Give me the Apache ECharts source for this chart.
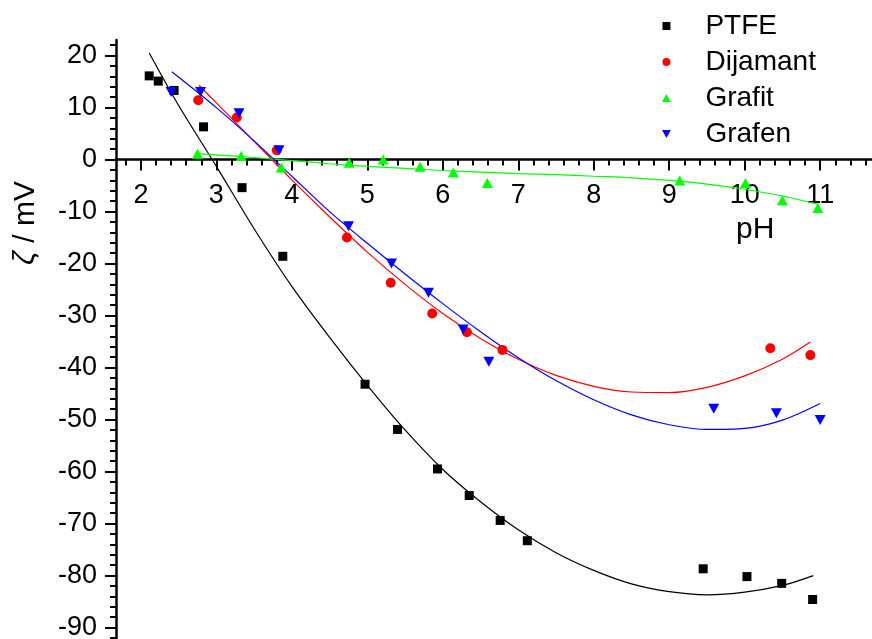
<!DOCTYPE html>
<html>
<head>
<meta charset="utf-8">
<script src="https://cdn.jsdelivr.net/npm/echarts@6/dist/echarts.min.js"></script>
<style>
html,body{margin:0;padding:0;background:#fff;}
#chart{width:872px;height:639px;}
</style>
</head>
<body>
<div id="chart"></div>
<script>
// ---- data ----
const xMajorTicks = [2, 3, 4, 5, 6, 7, 8, 9, 10, 11];
const xMinorTicks = [1.8, 2.2, 2.4, 2.6, 2.8, 3.2, 3.4, 3.6, 3.8, 4.2, 4.4, 4.6, 4.8, 5.2, 5.4, 5.6, 5.8, 6.2, 6.4, 6.6, 6.8, 7.2, 7.4, 7.6, 7.8, 8.2, 8.4, 8.6, 8.8, 9.2, 9.4, 9.6, 9.8, 10.2, 10.4, 10.6, 10.8, 11.2, 11.4, 11.6];
const yMajorTicks = [-90, -80, -70, -60, -50, -40, -30, -20, -10, 0, 10, 20];
const yMinorTicks = [-92, -88, -86, -84, -82, -78, -76, -74, -72, -68, -66, -64, -62, -58, -56, -54, -52, -48, -46, -44, -42, -38, -36, -34, -32, -28, -26, -24, -22, -18, -16, -14, -12, -8, -6, -4, -2, 2, 4, 6, 8, 12, 14, 16, 18, 22];

const ptfe = [[2.11,16.1],[2.23,15.1],[2.44,13.3],[2.83,6.3],[3.34,-5.4],[3.88,-18.6],[4.97,-43.2],[5.40,-51.9],[5.93,-59.5],[6.35,-64.6],[6.76,-69.4],[7.12,-73.3],[9.45,-78.7],[10.03,-80.2],[10.49,-81.5],[10.90,-84.6]];
const dijamant = [[2.76,11.4],[3.27,8.1],[3.80,1.8],[4.73,-15.0],[5.31,-23.7],[5.86,-29.6],[6.32,-33.2],[6.79,-36.6],[10.34,-36.3],[10.87,-37.6]];
const grafit = [[2.75,1.1],[3.33,0.7],[3.86,-1.5],[4.76,-0.6],[5.21,0.0],[5.70,-1.4],[6.14,-2.5],[6.59,-4.5],[9.14,-4.0],[10.01,-4.5],[10.50,-7.8],[10.97,-9.3]];
const grafen = [[2.40,13.0],[2.79,13.0],[3.30,8.9],[3.83,1.8],[4.75,-12.8],[5.32,-20.0],[5.81,-25.6],[6.27,-32.7],[6.61,-38.9],[9.59,-47.9],[10.42,-48.8],[11.00,-50.1]];

const ptfeFit = [[2.11,20.5],[2.5,10.4],[3.0,-1.3],[3.5,-13.3],[4.0,-24.4],[4.5,-34.2],[5.0,-43.4],[5.5,-52.0],[6.0,-59.6],[6.5,-65.8],[7.0,-71.2],[7.5,-75.6],[8.0,-79.0],[8.5,-81.6],[9.0,-83.1],[9.5,-83.7],[10.0,-83.2],[10.5,-81.9],[10.91,-80.0]];
const dijamantFit = [[2.77,14.3],[3.0,10.9],[3.5,3.5],[4.0,-3.9],[4.5,-11.0],[5.0,-17.8],[5.5,-24.0],[6.0,-29.6],[6.5,-34.4],[7.0,-38.4],[7.5,-41.5],[8.0,-43.6],[8.5,-44.7],[9.0,-44.8],[9.5,-43.8],[10.0,-41.6],[10.5,-38.4],[10.87,-35.1]];
const grafenFit = [[2.41,16.9],[3.0,10.0],[3.5,3.6],[4.0,-3.2],[4.5,-10.0],[5.0,-16.1],[5.5,-22.0],[6.0,-27.7],[6.5,-33.1],[7.0,-38.1],[7.5,-42.5],[8.0,-46.2],[8.5,-49.1],[9.0,-51.0],[9.5,-51.9],[10.0,-51.7],[10.5,-50.1],[11.0,-46.9]];
const grafitFit = [[2.78,1.1],[3.0,0.9],[3.5,0.4],[4.0,-0.2],[4.5,-0.8],[5.0,-1.3],[5.5,-1.7],[6.0,-2.1],[6.5,-2.4],[7.0,-2.7],[7.5,-2.9],[8.0,-3.2],[8.5,-3.5],[9.0,-4.0],[9.5,-4.7],[10.0,-5.7],[10.5,-7.0],[10.97,-8.6]];

const seriesNames = ['PTFE', 'Dijamant', 'Grafit', 'Grafen'];
const seriesColors = ['#000000', '#ff0000', '#00ff00', '#0000ff'];

const FONT = '"Liberation Sans", Arial, sans-serif';
const X_MIN = 1.67, X_MAX = 11.7, Y_MIN = -92.2, Y_MAX = 23;
const GRID_TOP = 40, GRID_H = 599;
const ZERO_OFFSET = -(GRID_H - (Y_MAX / (Y_MAX - Y_MIN)) * GRID_H);

const squareSym = 'path://M0,0 L10,0 L10,10 L0,10 Z';
const upTri = 'path://M5,0 L10,9 L0,9 Z';
const downTri = 'path://M0,0 L10,0 L5,9 Z';

const chart = echarts.init(document.getElementById('chart'), null, {renderer: 'canvas'});

const gridBox = {left: 116, top: GRID_TOP, width: 757, height: GRID_H, containLabel: false, outerBoundsMode: 'none'};

const option = {
  animation: false,
  backgroundColor: '#ffffff',
  textStyle: {fontFamily: FONT},
  grid: [Object.assign({}, gridBox), Object.assign({}, gridBox)],
  legend: {
    orient: 'vertical',
    left: 657,
    top: 6,
    itemWidth: 60,
    itemHeight: 8,
    itemGap: 6,
    data: [
      {name: seriesNames[0], icon: squareSym},
      {name: seriesNames[1], icon: 'circle'},
      {name: seriesNames[2], icon: upTri},
      {name: seriesNames[3], icon: downTri}
    ],
    textStyle: {fontSize: 28, color: '#000', fontFamily: FONT, lineHeight: 30, padding: [0, 0, 0, 4]},
    selectedMode: false
  },
  xAxis: [
    {
      gridIndex: 0, type: 'value', min: X_MIN, max: X_MAX, position: 'bottom', offset: ZERO_OFFSET,
      axisLine: {onZero: false, lineStyle: {color: '#000', width: 2.5}},
      axisTick: {customValues: xMajorTicks, length: 11, lineStyle: {color: '#000', width: 2}},
      axisLabel: {customValues: xMajorTicks, fontSize: 27, color: '#000', margin: 22, fontFamily: FONT},
      splitLine: {show: false}
    },
    {
      gridIndex: 1, type: 'value', min: X_MIN, max: X_MAX, position: 'bottom', offset: ZERO_OFFSET,
      axisLine: {show: false, onZero: false},
      axisTick: {customValues: xMinorTicks, length: 6, lineStyle: {color: '#000', width: 2}},
      axisLabel: {show: false},
      splitLine: {show: false}
    }
  ],
  yAxis: [
    {
      gridIndex: 0, type: 'value', min: Y_MIN, max: Y_MAX, position: 'left',
      axisLine: {show: true, onZero: false, lineStyle: {color: '#000', width: 2.5}},
      axisTick: {customValues: yMajorTicks, length: 11, lineStyle: {color: '#000', width: 2}},
      axisLabel: {customValues: yMajorTicks, fontSize: 27, color: '#000', margin: 19, fontFamily: FONT},
      splitLine: {show: false}
    },
    {
      gridIndex: 1, type: 'value', min: Y_MIN, max: Y_MAX, position: 'left',
      axisLine: {show: false, onZero: false},
      axisTick: {customValues: yMinorTicks, length: 6, lineStyle: {color: '#000', width: 2}},
      axisLabel: {show: false},
      splitLine: {show: false}
    }
  ],
  graphic: [
    {
      type: 'text', left: 736, top: 215,
      style: {text: 'pH', fill: '#000', font: '30px ' + FONT}
    },
    {
      type: 'text', x: 26, y: 223, rotation: Math.PI / 2,
      style: {
        text: '{i|ζ} / mV', fill: '#000', fontSize: 30, fontFamily: FONT,
        align: 'center', verticalAlign: 'middle',
        rich: {i: {fontStyle: 'italic', fontSize: 30, fontFamily: FONT}}
      }
    }
  ],
  series: [
    {type: 'line', data: ptfeFit, smooth: 0.3, showSymbol: false, silent: true, lineStyle: {color: seriesColors[0], width: 1.2}, z: 1},
    {type: 'line', data: dijamantFit, smooth: 0.3, showSymbol: false, silent: true, lineStyle: {color: seriesColors[1], width: 1.2}, z: 1},
    {type: 'line', data: grafitFit, smooth: 0.3, showSymbol: false, silent: true, lineStyle: {color: seriesColors[2], width: 1.2}, z: 1},
    {type: 'line', data: grafenFit, smooth: 0.3, showSymbol: false, silent: true, lineStyle: {color: seriesColors[3], width: 1.2}, z: 1},
    {name: seriesNames[0], type: 'scatter', data: ptfe, symbol: squareSym, symbolSize: 9, itemStyle: {color: seriesColors[0], opacity: 1}, z: 3},
    {name: seriesNames[1], type: 'scatter', data: dijamant, symbol: 'circle', symbolSize: 10, itemStyle: {color: seriesColors[1], opacity: 1}, z: 3},
    {name: seriesNames[2], type: 'scatter', data: grafit, symbol: upTri, symbolSize: [11, 10], itemStyle: {color: seriesColors[2], opacity: 1}, z: 3},
    {name: seriesNames[3], type: 'scatter', data: grafen, symbol: downTri, symbolSize: [11, 10], itemStyle: {color: seriesColors[3], opacity: 1}, z: 3}
  ]
};
chart.setOption(option);
</script>
</body>
</html>
